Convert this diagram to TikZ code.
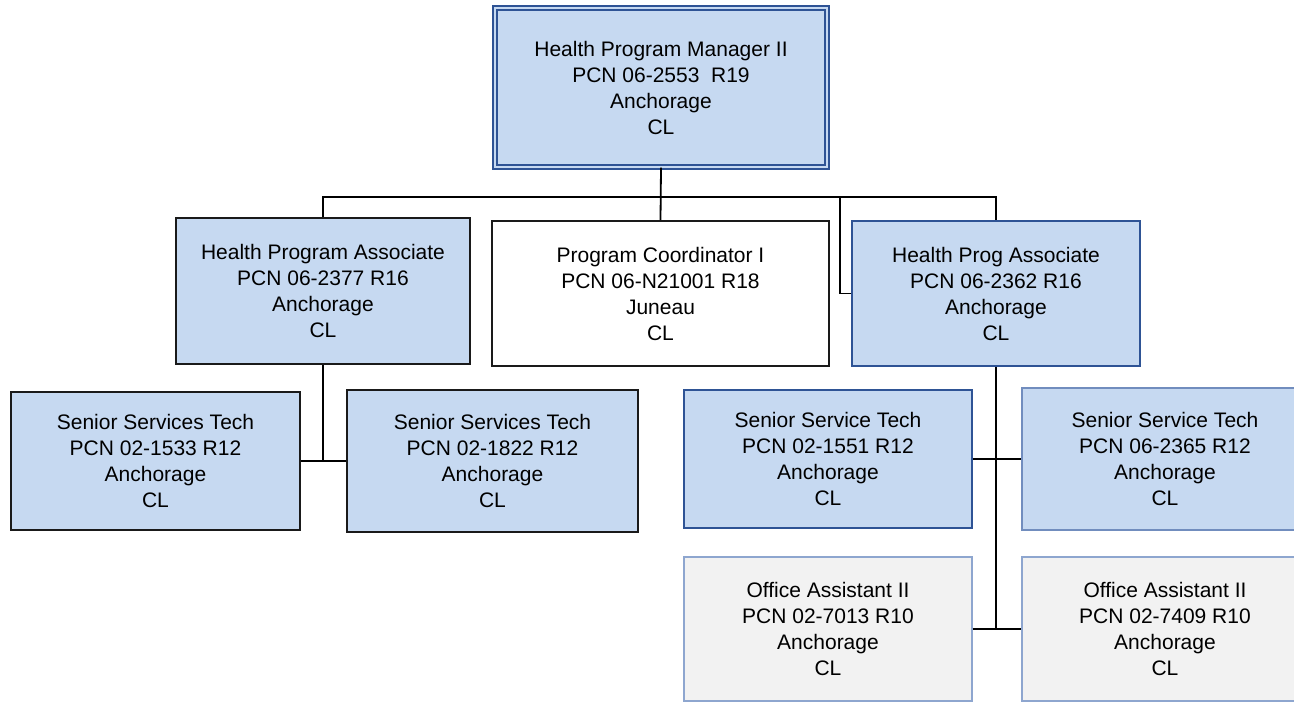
\documentclass[tikz,border=0pt]{standalone}
\usepackage{fontspec}
\setmainfont{Liberation Sans}
\definecolor{boxfill}{HTML}{C6D9F1}
\definecolor{boxline}{HTML}{2E5395}
\definecolor{darkline}{HTML}{1A1A1A}
\definecolor{oafill}{HTML}{F2F2F2}
\definecolor{oaline}{HTML}{8EA6CF}
\tikzset{
  orgbox/.style={rectangle, align=center, inner sep=2pt, font=\fontsize{21}{26}\selectfont, line width=1.6pt},
  bluebox/.style={orgbox, draw=boxline, fill=boxfill},
  darkbox/.style={orgbox, draw=darkline, fill=boxfill},
  whitebox/.style={orgbox, draw=darkline, fill=white},
  greybox/.style={orgbox, draw=oaline, fill=oafill, line width=1.2pt},
  topbox/.style={orgbox, draw=boxline, fill=boxfill, line width=1.4pt, double=boxfill, double distance=2.6pt},
  link/.style={draw=black, line width=1.8pt}
}
\begin{document}
\begin{tikzpicture}[x=1pt,y=-1pt]
\useasboundingbox (0,0) rectangle (1294,702);
\clip (0,0) rectangle (1294,702);
\fill[white] (0,0) rectangle (1294,702);

\node[topbox, minimum width=332pt, minimum height=159pt] (top) at (661,87.5)
  {Health Program Manager II\\PCN 06-2553\ \ R19\\Anchorage\\CL};

\node[darkbox, minimum width=294pt, minimum height=146pt] (hpaL) at (323,291)
  {Health Program Associate\\PCN 06-2377 R16\\Anchorage\\CL};
\node[whitebox, minimum width=337pt, minimum height=145pt] (pc) at (660.5,293.5)
  {Program Coordinator I\\PCN 06-N21001 R18\\Juneau\\CL};
\node[bluebox, minimum width=288pt, minimum height=145pt] (hpaR) at (996,293.5)
  {Health Prog Associate\\PCN 06-2362 R16\\Anchorage\\CL};

\node[darkbox, minimum width=289pt, minimum height=138pt] (sst1) at (155.5,461)
  {Senior Services Tech\\PCN 02-1533 R12\\Anchorage\\CL};
\node[darkbox, minimum width=291pt, minimum height=142pt] (sst2) at (492.5,461)
  {Senior Services Tech\\PCN 02-1822 R12\\Anchorage\\CL};

\node[bluebox, minimum width=288pt, minimum height=138pt] (sst3) at (828,459)
  {Senior Service Tech\\PCN 02-1551 R12\\Anchorage\\CL};
\node[bluebox, line width=1.2pt, draw=oaline!70!boxline, minimum width=286pt, minimum height=142pt] (sst4) at (1165,459)
  {Senior Service Tech\\PCN 06-2365 R12\\Anchorage\\CL};

\node[greybox, minimum width=288pt, minimum height=144pt] (oa1) at (828,629)
  {Office Assistant II\\PCN 02-7013 R10\\Anchorage\\CL};
\node[greybox, minimum width=286pt, minimum height=144pt] (oa2) at (1165,629)
  {Office Assistant II\\PCN 02-7409 R10\\Anchorage\\CL};

\coordinate (j) at (661,197);
\coordinate (k) at (840,197);

\draw[link] (top.south) -- (pc.north);
\draw[link] (hpaL.north) |- (j) -| (hpaR.north);
\draw[link] (hpaR.west) -| (k);

\draw[link] (hpaL.south) |- (sst1.east);
\draw[link] (hpaL.south |- sst2.west) -- (sst2.west);

\draw[link] (hpaR.south) -- (hpaR.south |- oa1.east);
\draw[link] (sst3.east) -- (sst4.west);
\draw[link] (oa1.east) -- (oa2.west);
\end{tikzpicture}
\end{document}
